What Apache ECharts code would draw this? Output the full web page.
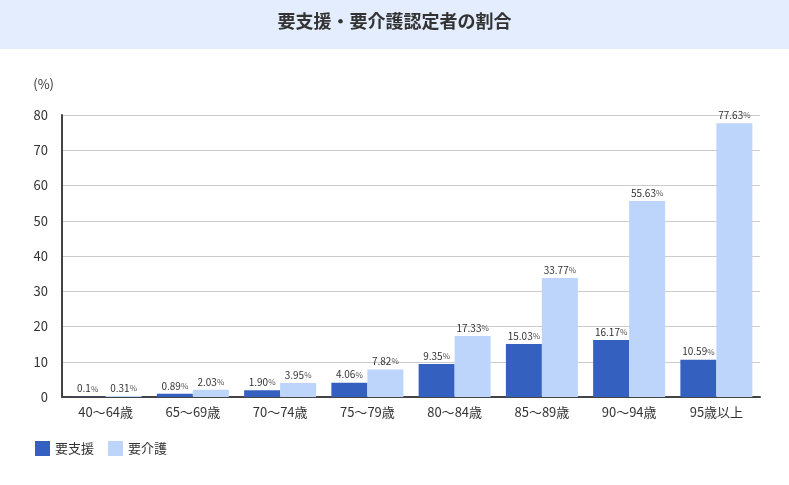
<!DOCTYPE html><html><head><meta charset="utf-8"><script src="https://cdn.jsdelivr.net/npm/echarts@6/dist/echarts.min.js"></script>
<style>body{margin:0}#c{width:789px;height:485px}</style></head><body><div id="c"></div><script>
const categories=['40～64歳','65～69歳','70～74歳','75～79歳','80～84歳','85～89歳','90～94歳','95歳以上'];
const shien=[0.1,0.89,1.90,4.06,9.35,15.03,16.17,10.59];
const kaigo=[0.31,2.03,3.95,7.82,17.33,33.77,55.63,77.63];
const shienLabels=['0.1','0.89','1.90','4.06','9.35','15.03','16.17','10.59'];
const kaigoLabels=['0.31','2.03','3.95','7.82','17.33','33.77','55.63','77.63'];
const font='"Noto Sans CJK JP","Noto Sans",sans-serif';
const lab=arr=>({show:true,position:'top',distance:3,formatter:p=>arr[p.dataIndex]+'{s|%}',color:'#333',fontSize:10,fontFamily:font,rich:{s:{fontSize:8,color:'#555',fontFamily:font}}});
const ch=echarts.init(document.getElementById('c'));
ch.setOption({
graphic:[{type:'rect',shape:{x:0,y:0,width:789,height:49},style:{fill:'#e3edfd'}},
{type:'text',left:'center',top:12,style:{text:'要支援・要介護認定者の割合',font:'bold 18px '+font,fill:'#333'}}],
textStyle:{fontFamily:font},
grid:{left:62,right:29,top:115,bottom:88},
legend:{left:30,bottom:24,itemWidth:15,itemHeight:15,itemGap:14,icon:'rect',textStyle:{fontSize:13,color:'#333',fontFamily:font},data:['要支援','要介護']},
xAxis:{type:'category',data:categories,axisLine:{lineStyle:{color:'#444',width:2}},axisTick:{show:false},axisLabel:{color:'#333',fontSize:13,margin:9}},
yAxis:{type:'value',min:0,max:80,interval:10,name:'(%)',nameLocation:'end',nameGap:24,nameTextStyle:{color:'#333',fontSize:13,align:'right',padding:[0,8,0,0]},axisLine:{show:true,lineStyle:{color:'#444',width:2}},axisLabel:{color:'#333',fontSize:13,margin:14},splitLine:{lineStyle:{color:'#ccc'}}},
series:[{name:'要支援',type:'bar',data:shien,barWidth:36,barGap:'0%',itemStyle:{color:'#3460c0'},label:lab(shienLabels)},
{name:'要介護',type:'bar',data:kaigo,barWidth:36,itemStyle:{color:'#bdd5fa'},label:lab(kaigoLabels)}]
});
</script></body></html>
